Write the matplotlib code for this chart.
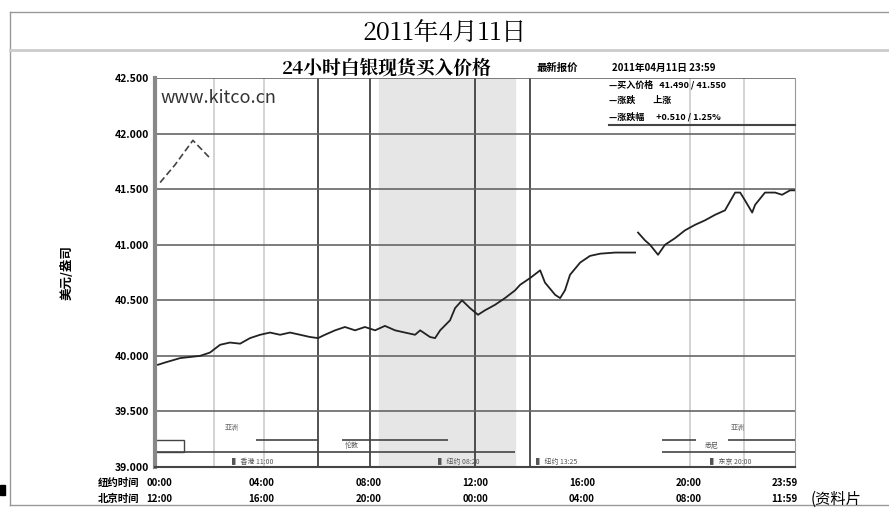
import matplotlib
matplotlib.use("Agg")
import matplotlib.pyplot as plt
from matplotlib.patches import Rectangle

plt.rcParams['font.family'] = ['Noto Sans CJK SC', 'DejaVu Sans']

# hours since 00:00 New York time, silver bid in USD/oz
hours1 = [0.11, 0.37, 0.94, 1.69, 2.06, 2.44, 2.81, 3.19, 3.56, 3.94, 4.31, 4.69,
          5.06, 5.44, 5.81, 6.11, 6.37, 6.75, 7.12, 7.5, 7.87, 8.25, 8.62, 9.0,
          9.37, 9.75, 9.94, 10.31, 10.5, 10.69, 11.06, 11.25, 11.51, 11.81, 12.11,
          12.37, 12.75, 13.12, 13.5, 13.69, 14.06, 14.44, 14.62, 15.0, 15.19,
          15.37, 15.56, 15.94, 16.31, 16.69, 17.25, 18.0]
price1 = [39.92, 39.94, 39.98, 40.00, 40.03, 40.10, 40.12, 40.11, 40.16, 40.19,
          40.21, 40.19, 40.21, 40.19, 40.17, 40.16, 40.19, 40.23, 40.26, 40.23,
          40.26, 40.23, 40.27, 40.23, 40.21, 40.19, 40.23, 40.17, 40.16, 40.23,
          40.32, 40.43, 40.50, 40.43, 40.37, 40.41, 40.46, 40.52, 40.59, 40.64,
          40.70, 40.77, 40.66, 40.55, 40.52, 40.59, 40.73, 40.84, 40.90, 40.92,
          40.93, 40.93]
hours2 = [18.11, 18.37, 18.56, 18.86, 19.12, 19.5, 19.87, 20.25, 20.62, 21.0,
          21.37, 21.75, 21.94, 22.12, 22.39, 22.5, 22.87, 23.25, 23.51, 23.81, 24.0]
price2 = [41.11, 41.04, 41.00, 40.91, 41.00, 41.06, 41.13, 41.18, 41.22, 41.27,
          41.31, 41.47, 41.47, 41.40, 41.29, 41.36, 41.47, 41.47, 41.45, 41.49, 41.49]
hours_prev = [0.19, 0.75, 1.42, 2.06]
price_prev = [41.56, 41.72, 41.94, 41.78]

yticks = [39.0, 39.5, 40.0, 40.5, 41.0, 41.5, 42.0, 42.5]
ylabels = ['39.000', '39.500', '40.000', '40.500', '41.000', '41.500', '42.000', '42.500']
xticks = [0, 4, 8, 12, 16, 20, 24]
ny_labels = ['00:00', '04:00', '08:00', '12:00', '16:00', '20:00', '23:59']
bj_labels = ['12:00', '16:00', '20:00', '00:00', '04:00', '08:00', '11:59']
dark_vlines = [6.1, 8.05, 12.0, 14.05]
light_vlines = [2.2, 4.1, 20.05, 22.1]

fig = plt.figure(figsize=(8.89, 5.13), dpi=100)
ax = fig.add_axes([0.1744, 0.0897, 0.72, 0.758])
ax.set_xlim(0, 24)
ax.set_ylim(39.0, 42.5)

ax.axvspan(8.4, 13.5, color='#e6e6e6', zorder=0)
for v in dark_vlines:
    ax.axvline(v, color='#333333', lw=1.2, zorder=1)
for v in light_vlines:
    ax.axvline(v, color='#cccccc', lw=1.2, zorder=1)
for t in yticks:
    ax.axhline(t, color='#666666', lw=1.2, zorder=1)

ax.plot(hours1, price1, color='#222222', lw=1.3, zorder=3)
ax.plot(hours2, price2, color='#222222', lw=1.3, zorder=3)
ax.plot(hours_prev, price_prev, color='#444444', lw=1.2, ls=(0, (4, 2)), zorder=3)

# market session bars in the lower strip
seg = [(3.8, 6.1, 39.243), (7.0, 11.0, 39.243), (0, 13.5, 39.135),
       (19.0, 20.3, 39.243), (21.5, 24, 39.243), (19.0, 24, 39.135)]
for x0, x1, yy in seg:
    ax.hlines(yy, x0, x1, color='#444444', lw=1.2, zorder=2)
ax.add_patch(Rectangle((0, 39.135), 1.1, 0.108, fill=False, ec='#444444', lw=1.0))
ax.text(2.6, 39.33, '亚洲', fontsize=5, color='#666666')
ax.text(7.1, 39.17, '伦敦', fontsize=5, color='#555555')
ax.text(2.9, 39.03, '▌ 香港 11:00', fontsize=5, color='#555555')
ax.text(10.6, 39.03, '▌ 纽约 08:20', fontsize=5, color='#555555')
ax.text(14.3, 39.03, '▌ 纽约 13:25', fontsize=5, color='#555555')
ax.text(21.6, 39.33, '亚洲', fontsize=5, color='#666666')
ax.text(20.6, 39.17, '悉尼', fontsize=5, color='#555555')
ax.text(20.8, 39.03, '▌ 东京 20:00', fontsize=5, color='#555555')

ax.set_yticks(yticks)
ax.set_yticklabels(ylabels, fontsize=7.5, fontweight='bold')
ax.set_xticks(xticks)
ax.set_xticklabels([])
ax.tick_params(axis='y', length=0, pad=4)
ax.tick_params(axis='x', length=0)
ax.spines['top'].set_visible(False)
ax.spines['left'].set_color('#888888')
ax.spines['left'].set_linewidth(3)
ax.spines['right'].set_color('#999999')
ax.spines['bottom'].set_color('#444444')
ax.spines['bottom'].set_linewidth(1.5)

ax.text(0.2, 42.28, 'www.kitco.cn', fontsize=13, color='#333333')

# two rows of time labels
offs = [0.15, 0, 0, 0, 0, 0, -0.4]
for t, o, a, b in zip(xticks, offs, ny_labels, bj_labels):
    ax.text(t + o, 38.856, a, ha='center', va='center', fontsize=7, fontweight='bold')
    ax.text(t + o, 38.712, b, ha='center', va='center', fontsize=7, fontweight='bold')
ax.text(-0.6, 38.856, '纽约时间', ha='right', va='center', fontsize=7.5, fontweight='bold')
ax.text(-0.6, 38.712, '北京时间', ha='right', va='center', fontsize=7.5, fontweight='bold')

ax.set_ylabel('美元/盎司', fontsize=9, fontweight='bold', labelpad=30)

# legend panel at the top right
fig.text(0.604, 0.862, '最新报价', fontsize=7.5, fontweight='bold')
fig.text(0.688, 0.862, '2011年04月11日 23:59', fontsize=7, fontweight='bold')
fig.text(0.685, 0.83, '—买入价格   41.490 / 41.550', fontsize=6.5, fontweight='bold')
fig.text(0.685, 0.80, '—涨跌         上涨', fontsize=6.5, fontweight='bold')
fig.text(0.685, 0.768, '—涨跌幅      +0.510 / 1.25%', fontsize=6.5, fontweight='bold')
fig.lines.append(plt.Line2D([0.685, 0.894], [0.757, 0.757], transform=fig.transFigure,
                            color='#444444', lw=1.5))

fig.text(0.5, 0.935, '2011年4月11日', ha='center', va='center', fontsize=18,
         family=['Noto Serif CJK SC', 'Noto Sans CJK SC'])
fig.text(0.435, 0.866, '24小时白银现货买入价格', ha='center', va='center', fontsize=13.5,
         fontweight='bold', family=['Noto Serif CJK SC', 'Noto Sans CJK SC'])

# outer frame and separator
fig.lines.append(plt.Line2D([0.011, 1.0], [0.977, 0.977], transform=fig.transFigure, color='#999999', lw=1))
fig.lines.append(plt.Line2D([0.011, 0.011], [0.015, 0.977], transform=fig.transFigure, color='#999999', lw=1))
fig.lines.append(plt.Line2D([0.011, 1.0], [0.015, 0.015], transform=fig.transFigure, color='#999999', lw=1))
fig.lines.append(plt.Line2D([0.011, 1.0], [0.903, 0.903], transform=fig.transFigure, color='#cccccc', lw=2))
fig.text(0.912, 0.026, '(资料片', fontsize=11, va='center')
fig.add_artist(Rectangle((0.0, 0.035), 0.006, 0.02, transform=fig.transFigure, color='black'))

fig.savefig('out.png', dpi=100)
